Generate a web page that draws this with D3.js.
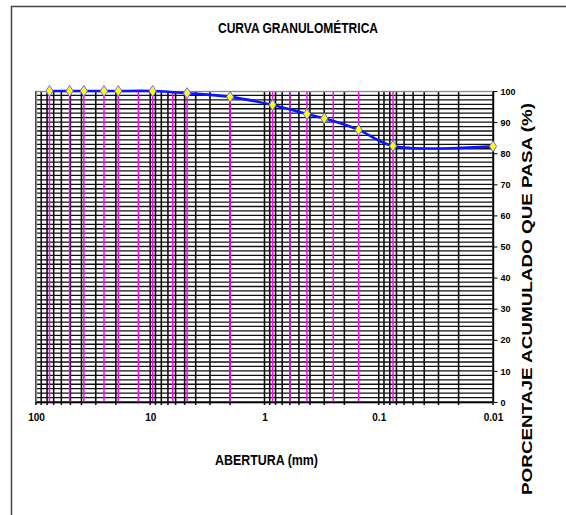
<!DOCTYPE html>
<html><head><meta charset="utf-8">
<script src="https://cdn.jsdelivr.net/npm/d3@7"></script>
<style>body{margin:0;background:#fff}svg{display:block}</style>
</head><body>
<svg id="c" width="566" height="515"></svg>
<script>
const sieveSizes = [76.2, 50.8, 38.1, 25.4, 19.05, 12.7, 9.525, 6.35, 4.76, 2.0, 0.85, 0.6, 0.425, 0.25, 0.15, 0.075];
const pointSizes = [76.2, 50.8, 38.1, 25.4, 19.05, 9.525, 4.76, 2.0, 0.85, 0.425, 0.3, 0.15, 0.075, 0.01];
const pointPass  = [100, 100, 100, 100, 100, 100, 99.3, 98.1, 95.5, 92.6, 91.2, 87.5, 82.3, 82.2];
const xTickLabels = [100, 10, 1, 0.1, 0.01];
const yTicks = [0, 10, 20, 30, 40, 50, 60, 70, 80, 90, 100];
const title = "CURVA GRANULOMÉTRICA";
const xTitle = "ABERTURA (mm)";
const yTitle = "PORCENTAJE ACUMULADO QUE PASA (%)";

const svg = d3.select("#c");
const L = 36, R = 493, T = 91, B = 402;
const x = d3.scaleLog().domain([100, 0.01]).range([L, R]);
const y = d3.scaleLinear().domain([0, 100]).range([B, T]);
const narrow = "'Liberation Sans Narrow','Arial Narrow','Liberation Sans',Arial,sans-serif";

// outer frame (left & top)
svg.append("line").attr("x1", 11.5).attr("x2", 11.5).attr("y1", 6).attr("y2", 515).attr("stroke", "#444").attr("stroke-width", 1.5);
svg.append("line").attr("x1", 11).attr("x2", 566).attr("y1", 6.5).attr("y2", 6.5).attr("stroke", "#444").attr("stroke-width", 1.5);

// horizontal gridlines
const hLines = d3.range(0, 70).map(i => i * 100 / 70);
svg.append("g").selectAll("line").data(hLines).join("line")
  .attr("x1", L).attr("x2", R)
  .attr("y1", d => y(d)).attr("y2", d => y(d))
  .attr("stroke", "#111").attr("stroke-width", 1.3);

// vertical minor log lines
const minor = [];
[0.01, 0.1, 1, 10].forEach(dec => { for (let k = 1; k <= 9; k++) minor.push(dec * k); });
minor.push(100);
svg.append("g").selectAll("line").data(minor).join("line")
  .attr("x1", d => x(d)).attr("x2", d => x(d))
  .attr("y1", T).attr("y2", B + 3)
  .attr("stroke", "#111").attr("stroke-width", 1.6);

// magenta sieve lines
svg.append("g").selectAll("line").data(sieveSizes).join("line")
  .attr("x1", d => x(d)).attr("x2", d => x(d))
  .attr("y1", T).attr("y2", B)
  .attr("stroke", "#ff00ff").attr("stroke-width", 1.5);

// plot border
svg.append("rect").attr("x", L + 0.5).attr("y", T + 0.5).attr("width", R - L).attr("height", B - T)
  .attr("fill", "none").attr("stroke", "#888").attr("stroke-width", 1.3);

// bottom axis line
svg.append("line").attr("x1", L).attr("x2", R).attr("y1", B + 0.5).attr("y2", B + 0.5).attr("stroke", "#000").attr("stroke-width", 1.3);

// right axis
const yAxis = d3.axisRight(y).tickValues(yTicks).tickSize(4).tickFormat(d3.format("d"));
const ya = svg.append("g").attr("transform", `translate(${R + 0.5},0)`).call(yAxis);
ya.select(".domain").attr("stroke", "#000").attr("stroke-width", 1.3).attr("d", `M0,${T}V${B}`);
ya.selectAll("text").attr("x", 7).attr("dy", "0.35em").attr("font-family", narrow)
  .attr("font-weight", "bold").attr("font-size", 9).attr("fill", "#000");

// bottom labels
const xAxis = d3.axisBottom(x).tickValues(xTickLabels).tickSize(0).tickFormat(d => String(d));
const xa = svg.append("g").attr("transform", `translate(0,${B})`).call(xAxis);
xa.select(".domain").remove();
xa.selectAll("text").attr("y", 19).attr("dy", 0).attr("font-family", narrow)
  .attr("font-weight", "bold").attr("font-size", 10).attr("fill", "#000");

// curve
const pts = pointSizes.map((s, i) => [x(s), y(pointPass[i])]);
svg.append("path").datum(pts)
  .attr("d", d3.line().curve(d3.curveCatmullRom.alpha(0.5)))
  .attr("fill", "none").attr("stroke", "#0a14ff").attr("stroke-width", 2.6);

// markers
svg.append("g").selectAll("path").data(pts).join("path")
  .attr("d", d => `M${d[0]},${d[1] - 5.5}L${d[0] + 3.6},${d[1]}L${d[0]},${d[1] + 5.5}L${d[0] - 3.6},${d[1]}Z`)
  .attr("fill", "#ffff00").attr("stroke", "#6a6aff").attr("stroke-width", 1);

// titles
svg.append("text").attr("x", 298).attr("y", 33).attr("text-anchor", "middle")
  .attr("font-family", narrow).attr("font-weight", "bold").attr("font-size", 14)
  .attr("textLength", 160).attr("lengthAdjust", "spacingAndGlyphs").text(title);
svg.append("text").attr("x", 266.5).attr("y", 465).attr("text-anchor", "middle")
  .attr("font-family", narrow).attr("font-weight", "bold").attr("font-size", 14)
  .attr("textLength", 103).attr("lengthAdjust", "spacingAndGlyphs").text(xTitle);
svg.append("text").attr("transform", "translate(532,299) rotate(-90)").attr("text-anchor", "middle")
  .attr("font-family", "'Liberation Sans',Arial,sans-serif").attr("font-weight", "bold").attr("font-size", 14)
  .attr("textLength", 392).attr("lengthAdjust", "spacingAndGlyphs").text(yTitle);
</script>
</body></html>
